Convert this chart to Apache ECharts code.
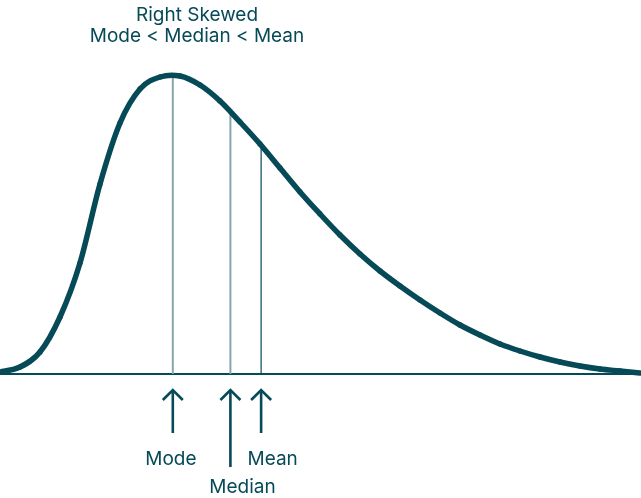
<!DOCTYPE html>
<html>
<head>
<meta charset="utf-8">
<script src="https://cdn.jsdelivr.net/npm/echarts@6/dist/echarts.min.js"></script>
<style>html,body{margin:0;padding:0;background:#fff}#c{width:641px;height:498px}</style>
</head>
<body>
<div id="c"></div>
<script>
// Curve (x in arbitrary units, density values)
const curveX = [0, 0.3125, 0.625, 0.9375, 1.25, 1.5625, 1.875, 2.1875, 2.5, 2.8125, 3.125, 3.4375, 3.75, 4.0625, 4.375, 4.6875, 5.0, 5.3125, 5.625, 5.9375, 6.25, 6.5625, 6.875, 7.1875, 7.5, 7.8125, 8.125, 8.4375, 8.75, 9.0625, 9.375, 9.6875, 10.0];
const curveY = [0.002, 0.007, 0.022, 0.057, 0.111, 0.190, 0.251, 0.285, 0.297, 0.298, 0.289, 0.273, 0.252, 0.230, 0.206, 0.182, 0.160, 0.139, 0.120, 0.103, 0.088, 0.074, 0.061, 0.049, 0.039, 0.030, 0.023, 0.017, 0.012, 0.008, 0.005, 0.003, 0.001];

// Markers
const markerNames = ['Mode', 'Median', 'Mean'];
const markerX = [2.70, 3.60, 4.08];
const markerY = [0.299, 0.262, 0.227];
const arrowTop = [-0.016, -0.016, -0.016];
const arrowBottom = [-0.059, -0.093, -0.059];
const labelX = [2.67, 3.79, 4.26];
const labelY = [-0.085, -0.113, -0.085];

const titleLines = ['Right Skewed', 'Mode < Median < Mean'];

const TEAL = '#064a58';
const FONT = 'Inter';

const chart = echarts.init(document.getElementById('c'), null, {renderer: 'canvas'});

const curveData = curveX.map((x, i) => [x, curveY[i]]);
const markerData = markerX.map((x, i) => [x, markerY[i], i]);
const arrowData = markerX.map((x, i) => [x, arrowTop[i], arrowBottom[i], i]);
const labelData = labelX.map((x, i) => [x, labelY[i], i]);

chart.setOption({
  animation: false,
  backgroundColor: '#ffffff',
  title: {
    text: titleLines.join('\n'),
    left: 192,
    top: 0,
    textAlign: 'center',
    textStyle: {color: TEAL, fontSize: 19, fontWeight: 'normal', fontFamily: FONT, lineHeight: 21}
  },
  grid: {left: 0, right: 1, top: 74, bottom: 0, containLabel: false},
  xAxis: {
    type: 'value', min: 0, max: 10,
    axisLine: {show: true, onZero: true, lineStyle: {color: TEAL, width: 2}},
    axisTick: {show: false}, axisLabel: {show: false}, splitLine: {show: false}
  },
  yAxis: {
    type: 'value', min: -0.124, max: 0.3,
    axisLine: {show: false}, axisTick: {show: false}, axisLabel: {show: false}, splitLine: {show: false}
  },
  series: [
    {
      type: 'custom',
      clip: false,
      z: 1,
      data: markerData,
      renderItem: function (params, api) {
        const i = api.value(2);
        const p0 = api.coord([api.value(0), 0]);
        const p1 = api.coord([api.value(0), api.value(1)]);
        const isMean = i === 2;
        return {
          type: 'line',
          shape: {x1: p0[0], y1: p0[1], x2: p1[0], y2: p1[1]},
          style: {stroke: isMean ? TEAL : '#86a6ad', lineWidth: isMean ? 1.2 : 2}
        };
      }
    },
    {
      // curve drawn as a Catmull-Rom spline through the data points (via axis coords)
      type: 'custom',
      clip: false,
      z: 3,
      data: curveData.slice(0, -1),
      renderItem: function (params, api) {
        const i = params.dataIndex;
        const n = curveData.length;
        const P = k => api.coord(curveData[Math.max(0, Math.min(n - 1, k))]);
        const p0 = P(i - 1), p1 = P(i), p2 = P(i + 1), p3 = P(i + 2);
        return {
          type: 'bezierCurve',
          shape: {
            x1: p1[0], y1: p1[1], x2: p2[0], y2: p2[1],
            cpx1: p1[0] + (p2[0] - p0[0]) / 6, cpy1: p1[1] + (p2[1] - p0[1]) / 6,
            cpx2: p2[0] - (p3[0] - p1[0]) / 6, cpy2: p2[1] - (p3[1] - p1[1]) / 6
          },
          style: {stroke: TEAL, lineWidth: 5.5, fill: null, lineCap: 'round'}
        };
      }
    },
    {
      type: 'custom',
      clip: false,
      data: arrowData,
      renderItem: function (params, api) {
        const x = api.value(0);
        const t = api.coord([x, api.value(1)]);
        const b = api.coord([x, api.value(2)]);
        const style = {stroke: TEAL, lineWidth: 2.6, fill: null, lineJoin: 'miter', lineCap: 'butt'};
        return {
          type: 'group',
          children: [
            {type: 'line', shape: {x1: t[0], y1: t[1], x2: b[0], y2: b[1]}, style: style},
            {type: 'polyline', shape: {points: [[t[0] - 10, t[1] + 10], [t[0], t[1]], [t[0] + 10, t[1] + 10]]}, style: style}
          ]
        };
      }
    },
    {
      type: 'custom',
      clip: false,
      data: labelData,
      renderItem: function (params, api) {
        const p = api.coord([api.value(0), api.value(1)]);
        return {
          type: 'text',
          x: p[0], y: p[1],
          style: {
            text: markerNames[api.value(2)],
            fill: TEAL, fontSize: 19, fontFamily: FONT,
            align: 'center', verticalAlign: 'middle'
          }
        };
      }
    }
  ]
});
</script>
</body>
</html>
